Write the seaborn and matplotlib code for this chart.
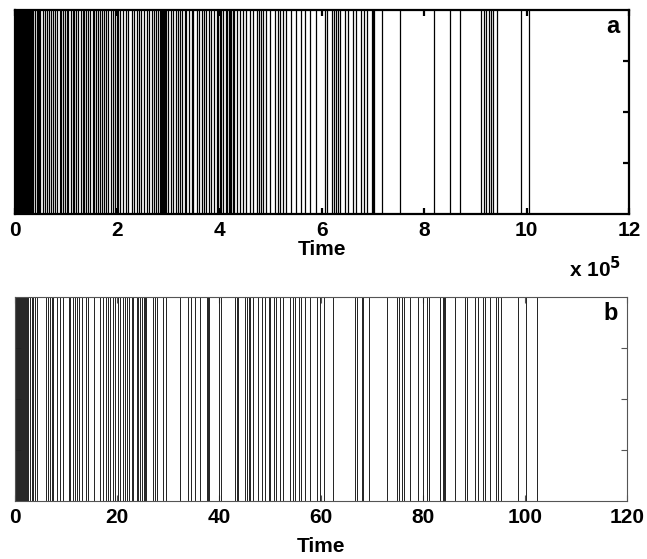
"""Event raster of two time series (panel a in units of 1e5, panel b in raw time)."""

import matplotlib

matplotlib.use("Agg")
import matplotlib.pyplot as plt
import seaborn as sns

# event times, panel a (x 10^5)
events_a = [
    0.00, 0.02, 0.04, 0.06, 0.08, 0.10, 0.12, 0.14, 0.16, 0.18, 0.20, 0.22,
    0.24, 0.26, 0.28, 0.30, 0.32, 0.34, 0.36, 0.40, 0.42, 0.44, 0.46, 0.48,
    0.54, 0.58, 0.62, 0.67, 0.71, 0.75, 0.78, 0.83, 0.87, 0.89, 0.94, 0.98,
    1.01, 1.04, 1.09, 1.13, 1.15, 1.19, 1.24, 1.28, 1.32, 1.35, 1.39, 1.43,
    1.46, 1.52, 1.55, 1.58, 1.63, 1.66, 1.70, 1.73, 1.78, 1.82, 1.87, 1.91,
    1.95, 1.99, 2.02, 2.06, 2.12, 2.17, 2.21, 2.28, 2.32, 2.38, 2.43, 2.47,
    2.52, 2.57, 2.62, 2.67, 2.71, 2.75, 2.80, 2.83, 2.85, 2.87, 2.89, 2.92,
    2.94, 2.96, 2.99, 3.04, 3.09, 3.14, 3.19, 3.22, 3.27, 3.32, 3.35, 3.40,
    3.45, 3.48, 3.55, 3.60, 3.65, 3.69, 3.74, 3.80, 3.84, 3.89, 3.95, 3.97,
    4.00, 4.03, 4.06, 4.13, 4.15, 4.18, 4.21, 4.23, 4.26, 4.28, 4.33, 4.39,
    4.46, 4.51, 4.60, 4.65, 4.73, 4.77, 4.80, 4.84, 4.90, 4.98, 5.08, 5.14,
    5.18, 5.23, 5.29, 5.40, 5.49, 5.58, 5.66, 5.76, 5.89, 6.05, 6.10, 6.19,
    6.23, 6.27, 6.32, 6.36, 6.45, 6.51, 6.61, 6.67, 6.77, 6.83, 6.87, 6.98,
    7.00, 7.02, 7.18, 7.52, 8.19, 8.50, 8.70, 9.11, 9.16, 9.21, 9.26, 9.31,
    9.34, 9.42, 9.88, 10.04,
]

# event times, panel b
events_b = [
    0.1, 0.3, 0.5, 0.7, 0.9, 1.1, 1.3, 1.5, 1.7, 1.9, 2.1, 2.3, 2.6, 2.9,
    3.3, 3.6, 3.9, 4.4, 6.1, 6.4, 6.9, 7.2, 7.4, 8.3, 8.8, 9.5, 10.5, 10.7,
    11.3, 11.8, 12.2, 12.6, 13.1, 13.9, 14.4, 15.5, 16.7, 17.3, 17.8, 18.3,
    18.6, 19.2, 19.6, 20.1, 20.6, 21.1, 21.6, 22.0, 22.4, 22.9, 23.2, 23.9,
    24.2, 24.5, 24.8, 25.2, 25.5, 25.7, 27.0, 27.5, 27.8, 29.0, 29.7, 32.4,
    34.0, 34.6, 35.3, 36.3, 37.6, 37.9, 38.1, 39.9, 40.3, 43.1, 43.5, 43.8,
    45.1, 45.4, 45.8, 46.1, 46.7, 47.7, 48.4, 49.0, 49.7, 50.0, 50.8, 51.2,
    52.0, 52.6, 53.9, 54.6, 54.9, 55.6, 56.0, 56.9, 57.8, 59.2, 59.8, 60.6,
    62.4, 66.7, 67.1, 68.0, 68.3, 69.5, 72.9, 74.8, 75.2, 75.8, 76.2, 77.5,
    79.1, 79.9, 80.85, 81.24, 83.3, 83.9, 84.1, 84.3, 86.3, 88.2, 88.7, 90.2,
    90.85, 91.7, 92.2, 93.1, 94.4, 94.6, 95.2, 98.7, 100.2, 102.4,
]

xticks_a = [0, 2, 4, 6, 8, 10, 12]
xticks_b = [0, 20, 40, 60, 80, 100, 120]
yticks = [0.25, 0.5, 0.75]

sns.set_style("ticks")
plt.rcParams["font.family"] = ["Liberation Sans", "DejaVu Sans"]
plt.rcParams["font.weight"] = "bold"
plt.rcParams["text.color"] = "black"
plt.rcParams["axes.labelcolor"] = "black"
plt.rcParams["xtick.labelcolor"] = "black"

fig = plt.figure(figsize=(6.47, 5.59), dpi=100)
ax_a = fig.add_axes([0.0232, 0.617, 0.949, 0.365])
ax_b = fig.add_axes([0.0232, 0.1038, 0.946, 0.365])


def style_axis(ax, events, xticks, line_width, line_color, spine_color, spine_width, label, labelpad):
    sns.rugplot(x=events, height=1, ax=ax, color=line_color, linewidth=line_width,
                expand_margins=False)
    ax.set_xlim(xticks[0], xticks[-1])
    ax.set_ylim(0, 1)
    ax.set_xticks(xticks)
    ax.set_xticklabels([str(t) for t in xticks], fontsize=15, fontweight="bold")
    ax.set_yticks(yticks)
    ax.set_yticklabels([])
    ax.tick_params(direction="in", top=True, right=True, left=True, bottom=True,
                   length=4, width=spine_width, color=spine_color, pad=5,
                   labelcolor="black")
    for spine in ax.spines.values():
        spine.set_color(spine_color)
        spine.set_linewidth(spine_width)
    ax.set_xlabel("Time", fontsize=15, fontweight="bold", labelpad=labelpad,
                  color="black")
    ax.text(0.985, 0.887, label, transform=ax.transAxes, ha="right",
            va="baseline", fontsize=17, fontweight="bold", color="black")


style_axis(ax_a, events_a, xticks_a, 0.9, "black", "black", 1.6, "a", 0)
style_axis(ax_b, events_b, xticks_b, 0.7, "#222222", "#555555", 0.8, "b", 7)

fig.text(0.96, 0.505, r"x 10$^{\mathbf{5}}$", ha="right", va="baseline",
         fontsize=15, fontweight="bold", color="black")

fig.savefig("out.png", dpi=100)
